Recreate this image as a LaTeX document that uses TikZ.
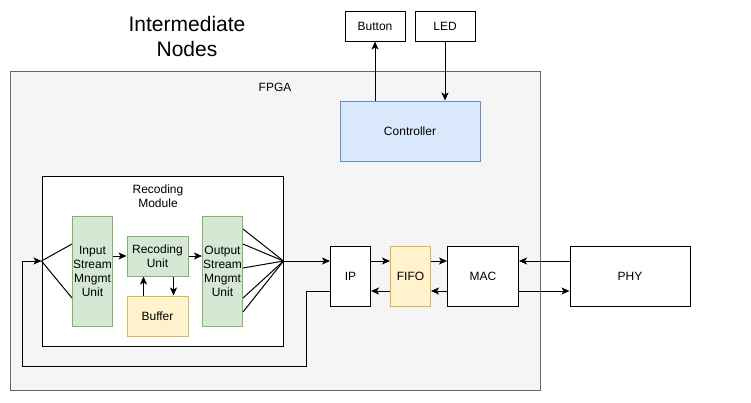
\documentclass[tikz,border=0pt]{standalone}
\usepackage{fontspec}
\setmainfont{Liberation Sans}
\usetikzlibrary{arrows.meta}
\definecolor{fpgafill}{HTML}{F5F5F5}
\definecolor{fpgaline}{HTML}{666666}
\definecolor{gfill}{HTML}{D5E8D4}
\definecolor{gline}{HTML}{82B366}
\definecolor{yfill}{HTML}{FFF2CC}
\definecolor{yline}{HTML}{D6B656}
\definecolor{bfill}{HTML}{DAE8FC}
\definecolor{bline}{HTML}{6C8EBF}
\begin{document}
\begin{tikzpicture}[x=1pt,y=-1pt,
  lbl/.style={font=\fontsize{12}{14}\selectfont, align=center, inner sep=0pt},
  box/.style={draw=black, fill=white, line width=1pt, inner sep=0pt, font=\fontsize{12}{14}\selectfont, align=center},
  green/.style={box, draw=gline, fill=gfill},
  yellow/.style={box, draw=yline, fill=yfill},
  blue/.style={box, draw=bline, fill=bfill},
  arr/.style={-{Stealth[length=8pt,width=7pt,inset=2pt]}, line width=1pt},
  ln/.style={line width=1pt}]
\useasboundingbox (0,0) rectangle (751,402);
\fill[white] (0,0) rectangle (751,402);

% FPGA region
\node[draw=fpgaline, fill=fpgafill, line width=1pt, minimum width=530pt, minimum height=319pt, inner sep=0pt] (fpga) at (275,230.5) {};
\node[lbl] (fpgalbl) at (275,87) {FPGA};

% Title
\node[align=center, inner sep=0pt, font=\fontsize{21}{25}\selectfont] (title) at (187,36) {Intermediate\\Nodes};

% Top devices
\node[box, minimum width=60pt, minimum height=30pt] (btn) at (375,26) {Button};
\node[box, minimum width=60pt, minimum height=30pt] (led) at (445,26) {LED};
\node[blue, minimum width=140pt, minimum height=60pt] (ctrl) at (410,131) {Controller};

% Recoding module
\node[box, minimum width=241pt, minimum height=170pt] (recmod) at (162.5,261) {};
\node[lbl] (recmodlbl) at (158,196.5) {Recoding\\Module};
\node[green, minimum width=40pt, minimum height=110pt] (ins) at (92.5,271) {Input\\Stream\\Mngmt\\Unit};
\node[green, minimum width=61pt, minimum height=40pt] (ru) at (157.5,256) {Recoding\\Unit};
\node[yellow, minimum width=61pt, minimum height=40pt] (buf) at (157.5,316) {Buffer};
\node[green, minimum width=40pt, minimum height=110pt] (outs) at (222.5,271) {Output\\Stream\\Mngmt\\Unit};

% Network chain
\node[box, minimum width=40pt, minimum height=60pt] (ip) at (350.5,276) {IP};
\node[yellow, minimum width=40pt, minimum height=60pt] (fifo) at (410.5,276) {FIFO};
\node[box, minimum width=71pt, minimum height=60pt] (mac) at (483,276) {MAC};
\node[box, minimum width=120pt, minimum height=60pt] (phy) at (630,276) {PHY};

% Controller connections
\draw[arr] (ctrl.north -| btn.south) -- (btn.south);
\draw[arr] (led.south) -- (ctrl.north -| led.south);

% Input fan
\draw[ln] (recmod.west) -- ([yshift=27pt]ins.west);
\draw[ln] (recmod.west) -- ([yshift=-27pt]ins.west);

% Inner arrows
\draw[arr] (ru.west -| ins.east) -- (ru.west);
\draw[arr] (ru.east) -- (ru.east -| outs.west);
\draw[arr] ([xshift=-14pt]buf.north) -- ([xshift=-14pt]ru.south);
\draw[arr] ([xshift=16pt]ru.south) -- ([xshift=16pt]buf.north);

% Output fan
\foreach \s in {42,27,3,-27,-41}
  \draw[ln] ([yshift=\s pt]outs.east) -- (recmod.east);

\draw[arr] (recmod.east) -- (recmod.east -| ip.west);

% Feedback loop
\coordinate (fb1) at (306,291);
\coordinate (fb2) at (306,366);
\coordinate (fb3) at (22,366);
\coordinate (fb4) at (22,261);
\draw[arr] ([yshift=-15pt]ip.west) -- (fb1) -- (fb2) -- (fb3) -- (fb4) -- (recmod.west);

% Chain arrows
\draw[arr] ([yshift=15pt]ip.east) -- ([yshift=15pt]fifo.west);
\draw[arr] ([yshift=-15pt]fifo.west) -- ([yshift=-15pt]ip.east);
\draw[arr] ([yshift=15pt]fifo.east) -- ([yshift=15pt]mac.west);
\draw[arr] ([yshift=-15pt]mac.west) -- ([yshift=-15pt]fifo.east);
\draw[arr] ([yshift=15pt]phy.west) -- ([yshift=15pt]mac.east);
\draw[arr] ([yshift=-15pt]mac.east) -- ([yshift=-15pt]phy.west);
\end{tikzpicture}
\end{document}
